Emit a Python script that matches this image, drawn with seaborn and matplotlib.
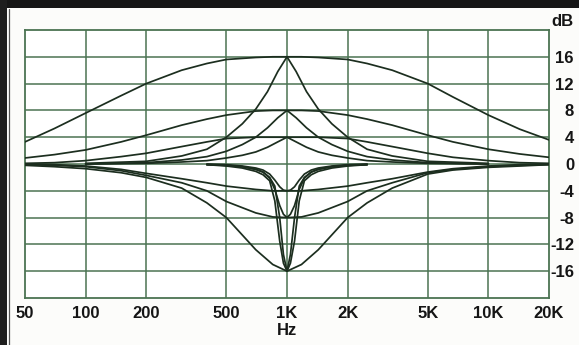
import numpy as np
import pandas as pd
import matplotlib
matplotlib.use("Agg")
import matplotlib.pyplot as plt
from matplotlib.patches import Rectangle
import seaborn as sns

# ---- response data (dB) read at fixed frequencies (Hz) ----
freq_wide = [50, 70, 100, 150, 200, 300, 400, 500, 700, 850, 1000, 1180,
             1430, 2000, 2500, 3330, 5000, 6670, 10000, 14300, 20000]
boost_wide_16 = [3.3, 5.3, 7.6, 10.2, 12.0, 14.0, 15.0, 15.6, 15.9, 16.0, 16.0, 16.0,
                 15.9, 15.6, 15.0, 14.0, 12.0, 10.0, 7.3, 5.2, 3.6]
boost_wide_8 = [0.9, 1.4, 2.1, 3.3, 4.3, 5.8, 6.7, 7.3, 7.9, 8.0, 8.0, 8.0,
                7.9, 7.3, 6.7, 5.8, 4.3, 3.3, 2.2, 1.5, 1.0]
boost_wide_4 = [0.1, 0.2, 0.5, 1.1, 1.6, 2.6, 3.3, 3.8, 4.0, 4.0, 4.0, 4.0,
                4.0, 3.8, 3.3, 2.6, 1.6, 1.0, 0.5, 0.2, 0.1]
cut_wide_16 = [-0.2, -0.4, -0.7, -1.3, -2.0, -3.6, -5.8, -8.0, -12.8, -15.0, -16.0, -15.0,
               -12.8, -8.0, -5.8, -3.6, -1.5, -0.9, -0.5, -0.3, -0.1]
cut_wide_8 = [-0.1, -0.2, -0.4, -1.0, -1.7, -2.8, -4.0, -5.6, -7.3, -7.9, -8.0, -7.9,
              -7.3, -5.6, -4.0, -2.8, -1.3, -0.8, -0.4, -0.2, -0.1]
cut_wide_4 = [0.0, -0.1, -0.3, -0.8, -1.4, -2.2, -2.8, -3.3, -3.8, -4.0, -4.0, -4.0,
              -3.8, -3.3, -2.8, -2.2, -1.2, -0.7, -0.3, -0.1, 0.0]

freq_peak = [100, 200, 300, 400, 500, 600, 700, 800, 900, 1000, 1110, 1250,
             1430, 1670, 2000, 2500, 3330, 5000, 10000]
boost_narrow_16 = [0.1, 0.4, 1.2, 2.2, 4.0, 6.0, 8.2, 10.8, 13.8, 16.0, 13.8, 10.8,
                   8.2, 6.0, 4.0, 2.2, 1.2, 0.4, 0.1]
boost_narrow_8 = [0.0, 0.2, 0.6, 1.1, 1.9, 2.9, 4.0, 5.4, 6.9, 8.0, 6.9, 5.4,
                  4.0, 2.9, 1.9, 1.1, 0.6, 0.2, 0.0]
boost_narrow_4 = [0.0, 0.1, 0.3, 0.5, 0.9, 1.3, 1.8, 2.5, 3.3, 4.0, 3.3, 2.5,
                  1.8, 1.3, 0.9, 0.5, 0.3, 0.1, 0.0]

freq_notch = [400, 500, 600, 700, 760, 820, 870, 920, 960, 1000, 1040, 1090,
              1150, 1220, 1320, 1430, 1670, 2000, 2500]
notch_16_a = [-0.1, -0.3, -0.6, -1.1, -1.6, -2.5, -5.5, -11.5, -14.8, -16.0, -14.8, -11.5,
              -5.5, -2.5, -1.6, -1.1, -0.6, -0.3, -0.1]
notch_16_b = [-0.1, -0.2, -0.4, -0.8, -1.2, -2.0, -3.3, -8.0, -13.5, -16.0, -13.5, -8.0,
              -3.3, -2.0, -1.2, -0.8, -0.4, -0.2, -0.1]
notch_8 = [-0.1, -0.2, -0.4, -0.8, -1.2, -2.1, -3.8, -6.2, -7.5, -8.0, -7.5, -6.2,
           -3.8, -2.1, -1.2, -0.8, -0.4, -0.2, -0.1]
notch_4 = [0.0, -0.1, -0.3, -0.6, -0.9, -1.5, -2.4, -3.4, -3.9, -4.0, -3.9, -3.4,
           -2.4, -1.5, -0.9, -0.6, -0.3, -0.1, 0.0]

x_ticks = [50, 100, 200, 500, 1000, 2000, 5000, 10000, 20000]
x_tick_labels = ["50", "100", "200", "500", "1K", "2K", "5K", "10K", "20K"]
y_ticks = [16, 12, 8, 4, 0, -4, -8, -12, -16]
y_tick_labels = ["16", "12", "8", "4", "0", "-4", "-8", "-12", "-16"]

curves = {
    "boost_wide_16": (freq_wide, boost_wide_16),
    "boost_wide_8": (freq_wide, boost_wide_8),
    "boost_wide_4": (freq_wide, boost_wide_4),
    "cut_wide_16": (freq_wide, cut_wide_16),
    "cut_wide_8": (freq_wide, cut_wide_8),
    "cut_wide_4": (freq_wide, cut_wide_4),
    "boost_narrow_16": (freq_peak, boost_narrow_16),
    "boost_narrow_8": (freq_peak, boost_narrow_8),
    "boost_narrow_4": (freq_peak, boost_narrow_4),
    "notch_16_a": (freq_notch, notch_16_a),
    "notch_16_b": (freq_notch, notch_16_b),
    "notch_8": (freq_notch, notch_8),
    "notch_4": (freq_notch, notch_4),
}
df = pd.concat(
    [pd.DataFrame({"curve": name, "freq": f, "gain": g}) for name, (f, g) in curves.items()],
    ignore_index=True,
)

# ---- styling ----
sns.set_theme(style="white")
plt.rcParams["font.family"] = ["Liberation Sans", "DejaVu Sans"]
grid_col = "#4b7352"
curve_col = "#1c2e1f"
label_font = dict(fontsize=12, fontweight="bold", color="#151515")

W, H = 579, 345
fig = plt.figure(figsize=(W / 100, H / 100), dpi=100)
fig.patch.set_facecolor("#fcfcfa")

# dark scanned border along the top and left edges
fig.patches.append(Rectangle((0, 1 - 8 / H), 1, 8 / H, transform=fig.transFigure,
                             facecolor="#161616", edgecolor="none", zorder=0))
fig.patches.append(Rectangle((0, 0), 7 / W, 1, transform=fig.transFigure,
                             facecolor="#1e1e1e", edgecolor="none", zorder=0))
fig.lines.append(plt.Line2D([8.5 / W, 8.5 / W], [0, 1 - 9 / H], transform=fig.transFigure,
                            color="#555555", lw=0.9))

ax = fig.add_axes([25 / W, 47 / H, 524 / W, 268 / H])
ax.set_facecolor("white")
ax.set_xscale("log")
ax.set_xlim(50, 20000)
ax.set_ylim(-20, 20)

for xv in x_ticks[1:-1]:
    ax.axvline(xv, color=grid_col, lw=1.1, zorder=1)
for yv in y_ticks:
    ax.axhline(yv, color=grid_col, lw=1.1, zorder=1)

sns.lineplot(data=df, x="freq", y="gain", units="curve", estimator=None,
             color=curve_col, lw=1.25, sort=False, ax=ax, zorder=3)

for s in ax.spines.values():
    s.set_color(grid_col)
    s.set_linewidth(1.3)

ax.set_xticks(x_ticks)
ax.set_xticklabels(x_tick_labels, **label_font)
ax.xaxis.set_minor_locator(matplotlib.ticker.NullLocator())
ax.tick_params(axis="x", length=0, pad=6)

ax.yaxis.tick_right()
ax.set_yticks(y_ticks)
ax.set_yticklabels(y_tick_labels, **label_font)
ax.tick_params(axis="y", length=0, pad=18)
for t in ax.get_yticklabels():
    t.set_horizontalalignment("right")

ax.set_xlabel("Hz", labelpad=1, **label_font)
ax.set_ylabel("")
fig.text(574 / W, 1 - 22 / H, "dB", ha="right", va="center", **label_font)

fig.savefig("out.png", dpi=100, facecolor=fig.get_facecolor())
